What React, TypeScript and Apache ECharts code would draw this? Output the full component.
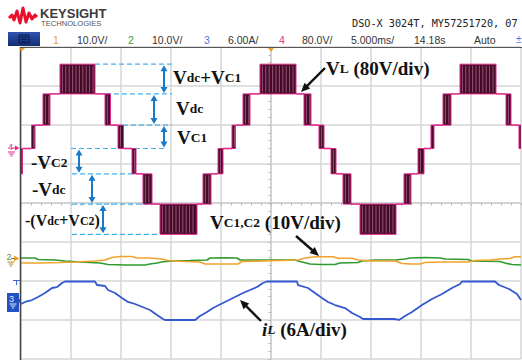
import React, { useEffect, useRef } from "react";
import * as echarts from "echarts";

// ---------- axes: 5 ms/div x 10 div, 8 vertical divisions ----------
const TIME_MIN = -25;
const TIME_MAX = 25;
const TIME_DIV = 5;
const DIVS = 4; // half of the vertical divisions

// channel scales (per division) and ground-marker positions (in divisions from centre)
const CH12_PER_DIV = 10; // V
const CH3_PER_DIV = 6; // A
const CH4_PER_DIV = 80; // V
const CH12_GROUND = -1.423;
const CH3_GROUND = -2.513;
const CH4_GROUND = 1.397;

// ---------- Channel 4: VL multilevel output (V), segments between edges ----------
const vlEdges = [
  -25, -24.85, -23.95, -23.6, -22.8, -22.1, -21.1, -17.6, -16.6, -16.05,
  -15.3, -14.75, -13.9, -13.5, -12.8, -11.9, -11.1, -7.4, -6.8, -6.0,
  -5.3, -4.8, -3.9, -3.55, -2.8, -2.1, -1.1, 2.5, 3.3, 4.0,
  4.8, 5.3, 6.0, 6.5, 7.2, 8.0, 8.9, 12.5, 13.3, 14.0,
  14.7, 15.3, 16.0, 16.3, 17.2, 18.0, 18.9, 22.5, 23.5, 24.0,
  24.8, 25,
];
const vlLow = [
  -52, 0, 0, 48, 48, 112, 112, 112, 48, 48,
  0, 0, -52, -52, -114, -114, -176, -114, -114, -52,
  -52, 0, 0, 48, 48, 112, 112, 112, 48, 48,
  0, 0, -52, -52, -114, -114, -176, -114, -114, -52,
  -52, 0, 0, 48, 48, 112, 112, 112, 48, 48,
  0,
];
const vlHigh = [
  0, 0, 48, 48, 112, 112, 173, 112, 112, 48,
  48, 0, 0, -52, -52, -114, -114, -114, -52, -52,
  0, 0, 48, 48, 112, 112, 173, 112, 112, 48,
  48, 0, 0, -52, -52, -114, -114, -114, -52, -52,
  0, 0, 48, 48, 112, 112, 173, 112, 112, 48,
  48,
];

// ---------- Channel 1: VC1 (V) ----------
const vc1Time = [
  -25.0, -23.1, -21.1, -19.6, -17.6, -16.6, -15.9, -15.1, -13.9, -13.4,
  -12.1, -10.9, -10.3, -8.6, -7.1, -6.6, -3.3, -2.9, -0.9, 0.9,
  2.7, 3.4, 4.4, 6.2, 6.7, 8.1, 8.7, 10.1, 12.4, 13.1,
  13.9, 14.9, 15.4, 17.4, 19.7, 20.4, 21.9, 22.9, 23.9, 24.4, 25.0,
];
const vc1Volt = [
  -1.15, -1.15, -1.03, -0.9, -0.64, -0.38, 0.26, 0.51, 0.51, 0.13,
  0.13, -0.13, -0.51, -0.77, -0.9, -1.41, -1.41, -0.77, -0.64, -0.51,
  -0.38, 0.13, 0.46, 0.46, 0.05, 0.05, -0.38, -0.64, -0.64, -1.28,
  -1.41, -1.41, -1.03, -0.9, -0.9, -0.51, -0.38, -0.13, 0, 0.46, 0.46,
];

// ---------- Channel 2: VC2 (V) ----------
const vc2Time = [
  -25.0, -23.6, -23.3, -21.6, -20.6, -19.1, -17.1, -16.3, -14.6, -12.6,
  -12.1, -11.4, -10.8, -9.9, -8.1, -6.4, -6.1, -4.6, -3.4, -3.1,
  2.4, 2.9, 3.9, 4.9, 6.4, 6.9, 8.7, 9.1, 10.4, 12.4,
  13.4, 13.9, 15.4, 16.9, 17.4, 19.7, 20.1, 22.9, 23.4, 24.1, 25.0,
];
const vc2Volt = [
  0.13, 0.13, -0.26, -0.38, -0.64, -0.9, -1.15, -1.54, -1.67, -1.67,
  -1.41, -1.15, -0.82, -0.64, -0.51, -0.38, 0.13, 0.21, 0.13, -0.38,
  -0.38, -0.77, -1.41, -1.54, -1.54, -1.15, -1.03, -0.64, -0.38, -0.38,
  -0.13, 0.13, 0.26, 0.13, -0.13, -0.26, -0.64, -0.77, -1.15, -1.54, -1.67,
];

// ---------- Channel 3: iL (A) ----------
const iLTime = [
  -25.0, -24.6, -23.9, -23.3, -22.6, -21.9, -21.4, -20.9, -20.6, -17.6,
  -17.4, -16.6, -16.3, -15.6, -14.9, -14.3, -13.6, -12.6, -12.1, -11.4,
  -10.8, -10.6, -7.6, -7.1, -6.4, -5.8, -4.8, -3.8, -2.8, -2.1,
  -1.4, -0.8, -0.4, 2.6, 2.7, 3.7, 4.4, 5.1, 5.7, 6.4,
  7.4, 8.1, 8.9, 9.2, 12.4, 12.8, 13.4, 14.1, 15.1, 16.1,
  17.1, 18.1, 18.9, 19.1, 22.4, 22.8, 23.8, 24.6, 25.0,
];
const iLAmp = [
  -0.46, -0.15, 0.15, 0.62, 1.23, 2.0, 2.15, 2.77, 3.0, 3.0,
  2.46, 2.31, 1.69, 1.23, 0.46, -0.15, -0.46, -1.08, -1.38, -2.15,
  -2.77, -2.92, -2.92, -2.31, -1.69, -1.08, -0.31, 0.46, 1.23, 1.69,
  2.15, 2.77, 3.0, 3.0, 2.46, 2.0, 1.23, 0.46, -0.15, -0.62,
  -1.08, -1.85, -2.46, -2.77, -2.77, -2.92, -2.31, -1.69, -0.62, 0.31,
  1.08, 2.0, 2.62, 3.0, 3.0, 2.46, 1.85, 1.08, 0.15,
];

// ---------- level annotations on channel 4 ----------
const dashFrom = [-17.6, -16.5, -14.8, -20.0, -19.9, -19.9, -19.9];
const dashTo = [-9.9, -9.9, -9.9, -10.4, -13.8, -11.9, -11.1];
const dashLevel = [173, 112, 48, 0, -52, -114, -176];

const spanTime = [-10.7, -11.7, -10.7, -19.2, -17.9, -16.8];
const spanTop = [173, 112, 48, 0, -52, -114];
const spanBottom = [112, 48, 0, -52, -114, -176];

// ---------- header texts ----------
const headerModel = "DSO-X 3024T, MY57251720, 07";
const statusItems = [
  { text: "1", x: 53, color: "#f0a020" },
  { text: "10.0V/", x: 77, color: "#333" },
  { text: "2", x: 128, color: "#3aa040" },
  { text: "10.0V/", x: 152, color: "#333" },
  { text: "3", x: 204, color: "#4a7ae0" },
  { text: "6.00A/", x: 228, color: "#333" },
  { text: "4", x: 279, color: "#e0288a" },
  { text: "80.0V/", x: 302, color: "#333" },
  { text: "5.000ms/", x: 351, color: "#333" },
  { text: "14.18s", x: 414, color: "#333" },
  { text: "Auto", x: 474, color: "#333" },
];

const PINK = "#e0288a";
const DARK = "#450a29";
const STRIPE = "#b77594";
const ORANGE = "#f2a22c";
const GREEN = "#2f9a2f";
const BLUE_TRACE = "#3558d0";
const ANN_BLUE = "#1a78c8";
const DASH_BLUE = "#45b2f0";
const SERIF = "'Liberation Serif', 'Times New Roman', serif";
const SANS = "'Liberation Sans', Arial, sans-serif";

const axisRange = (perDiv: number, ground: number) => ({
  min: (-DIVS - ground) * perDiv,
  max: (DIVS - ground) * perDiv,
});

function blackArrow(x1: number, y1: number, x2: number, y2: number) {
  const dx = x2 - x1, dy = y2 - y1;
  const L = Math.hypot(dx, dy);
  const ux = dx / L, uy = dy / L;
  const hl = 9, hw = 4;
  const bx = x2 - ux * hl, by = y2 - uy * hl;
  return [
    { type: "line", z: 60, shape: { x1, y1, x2: bx + ux, y2: by + uy }, style: { stroke: "#111", lineWidth: 2.4 } },
    {
      type: "polygon", z: 60,
      shape: { points: [[x2, y2], [bx - uy * hw, by + ux * hw], [bx + uy * hw, by - ux * hw]] },
      style: { fill: "#111" },
    },
  ];
}

function ground(x: number, y: number, color: string) {
  return [
    { type: "line", z: 60, shape: { x1: x - 3.5, y1: y, x2: x + 3.5, y2: y }, style: { stroke: color, lineWidth: 1 } },
    { type: "line", z: 60, shape: { x1: x - 2.3, y1: y + 2, x2: x + 2.3, y2: y + 2 }, style: { stroke: color, lineWidth: 1 } },
    { type: "line", z: 60, shape: { x1: x - 1, y1: y + 4, x2: x + 1, y2: y + 4 }, style: { stroke: color, lineWidth: 1 } },
  ];
}

const tok = (fontSize: number, lift: number, italic = false) => ({
  fontFamily: SERIF, fontWeight: "bold", fontStyle: italic ? "italic" : "normal",
  fontSize, fill: "#111", verticalAlign: "bottom", padding: [0, 0, lift, 0],
});
const richBase = {
  b: tok(19, 0),
  s: tok(13.5, 2),
  bi: tok(19, 0, true),
  si: tok(13.5, 2, true),
  m: tok(16, 0),
  t: tok(12, 1.5),
};

function label(x: number, y: number, text: string) {
  return {
    type: "text", z: 60, x, y,
    style: { text, rich: richBase, verticalAlign: "middle", align: "left" },
  };
}

function buildOption() {
  const ch4 = axisRange(CH4_PER_DIV, CH4_GROUND);
  const ch12 = axisRange(CH12_PER_DIV, CH12_GROUND);
  const ch3 = axisRange(CH3_PER_DIV, CH3_GROUND);

  const vlData = vlLow.map((lo, i) => [vlEdges[i], vlEdges[i + 1], lo, vlHigh[i]]);
  const dashData = dashLevel.map((lv, i) => [dashFrom[i], dashTo[i], lv]);
  const spanData = spanTime.map((t, i) => [t, spanTop[i], spanBottom[i]]);

  const gridLine = { color: "#d6d6d6", width: 1.5 };
  const centreLine = { show: true, onZero: true, onZeroAxisIndex: 0, lineStyle: { color: "#cfcfcf", width: 1.5 } };

  const graphic: any[] = [
    // frame
    { type: "line", z: 55, shape: { x1: 20, y1: 47.5, x2: 522, y2: 47.5 }, style: { stroke: "#555", lineWidth: 1 } },
    { type: "line", z: 55, shape: { x1: 20.5, y1: 47, x2: 20.5, y2: 360 }, style: { stroke: "#444", lineWidth: 1.5 } },
    // logo
    {
      type: "polyline", z: 60,
      shape: { points: [[9, 18], [12, 15], [14, 20], [17, 11], [20, 23], [23, 8], [26, 22], [29, 13], [32, 19], [35, 15], [37, 17]] },
      style: { stroke: "#e8102a", lineWidth: 3, fill: null, lineJoin: "round" },
    },
    { type: "text", z: 60, x: 40, y: 13, style: { text: "KEYSIGHT", font: `bold 13px ${SANS}`, fill: "#3a3a3a", verticalAlign: "middle" } },
    { type: "text", z: 60, x: 41, y: 23.5, style: { text: "TECHNOLOGIES", font: `7.6px ${SANS}`, fill: "#555", verticalAlign: "middle" } },
    { type: "text", z: 60, x: 352, y: 23, style: { text: headerModel, font: `10.2px 'DejaVu Sans Mono', monospace`, fill: "#222", verticalAlign: "middle" } },
    // menu button
    {
      type: "rect", z: 60, shape: { x: 8, y: 32, width: 32, height: 14 },
      style: {
        fill: new echarts.graphic.LinearGradient(0, 0, 0, 1, [
          { offset: 0, color: "#2f55b0" },
          { offset: 1, color: "#142c72" },
        ]),
      },
    },
    { type: "rect", z: 61, shape: { x: 19, y: 35, width: 10, height: 8 }, style: { fill: "#1c3a8a", stroke: "#0b1b4a", lineWidth: 1 } },
    { type: "line", z: 62, shape: { x1: 21, y1: 37.5, x2: 27, y2: 37.5 }, style: { stroke: "#0b1b4a", lineWidth: 0.8 } },
    { type: "line", z: 62, shape: { x1: 21, y1: 39.5, x2: 27, y2: 39.5 }, style: { stroke: "#0b1b4a", lineWidth: 0.8 } },
    { type: "line", z: 62, shape: { x1: 21, y1: 41.5, x2: 27, y2: 41.5 }, style: { stroke: "#0b1b4a", lineWidth: 0.8 } },
    ...statusItems.map((s) => ({
      type: "text", z: 60, x: s.x, y: 39.5,
      style: { text: s.text, font: `10.5px ${SANS}`, fill: s.color, verticalAlign: "middle" },
    })),
    { type: "text", z: 60, x: 516, y: 39.5, style: { text: "±", font: `10px ${SANS}`, fill: "#4a7ae0", verticalAlign: "middle" } },
    // trigger position markers
    { type: "polygon", z: 60, shape: { points: [[268, 48], [274, 48], [271, 52]] }, style: { fill: ORANGE } },
    { type: "polygon", z: 60, shape: { points: [[20, 48], [25, 48], [21, 52]] }, style: { fill: ORANGE } },
    // channel 4 marker
    { type: "text", z: 60, x: 8, y: 146.5, style: { text: "4", font: `9px ${SANS}`, fill: PINK, verticalAlign: "middle" } },
    { type: "polygon", z: 60, shape: { points: [[15, 145.5], [19.5, 148], [15, 150.5]] }, style: { fill: PINK } },
    { type: "line", z: 60, shape: { x1: 11.5, y1: 148, x2: 16, y2: 148 }, style: { stroke: PINK, lineWidth: 1 } },
    ...ground(11.5, 152, PINK),
    // channel 1/2 marker
    { type: "text", z: 60, x: 6.5, y: 257, style: { text: "2", font: `9px ${SANS}`, fill: "#6a8a2a", verticalAlign: "middle" } },
    { type: "polygon", z: 60, shape: { points: [[14, 255.5], [19.5, 258.5], [14, 261.5]] }, style: { fill: ORANGE } },
    { type: "line", z: 60, shape: { x1: 11, y1: 258.5, x2: 15, y2: 258.5 }, style: { stroke: "#6a8a2a", lineWidth: 1 } },
    ...ground(11, 262, "#b08a20"),
    // channel 3 trigger level + marker
    { type: "line", z: 60, shape: { x1: 13, y1: 280.5, x2: 20, y2: 280.5 }, style: { stroke: "#3a6ad8", lineWidth: 1 } },
    { type: "line", z: 60, shape: { x1: 16.5, y1: 280.5, x2: 16.5, y2: 285 }, style: { stroke: "#3a6ad8", lineWidth: 1 } },
    { type: "rect", z: 60, shape: { x: 7, y: 293, width: 12, height: 19 }, style: { fill: "#2452c4" } },
    { type: "text", z: 61, x: 9, y: 298.5, style: { text: "3", font: `9px ${SANS}`, fill: "#dfe8ff", verticalAlign: "middle" } },
    ...ground(13, 304, "#dfe8ff").map((g) => ({ ...g, z: 61 })),
    { type: "polygon", z: 60, shape: { points: [[19, 298.5], [21, 301], [19, 303.5]] }, style: { fill: "#2452c4" } },
    // annotation labels
    label(173, 77, "{b|V}{s|dc}{b|+V}{s|C1}"),
    label(176, 108, "{b|V}{s|dc}"),
    label(177, 137, "{b|V}{s|C1}"),
    label(31, 162, "{b|-V}{s|C2}"),
    label(32, 189, "{b|-V}{s|dc}"),
    label(25, 220, "{m|-(V}{t|dc}{m|+V}{t|C2}{m|)}"),
    label(326, 68, "{b|V}{s|L}{b| (80V/div)}"),
    label(210, 222, "{b|V}{s|C1,C2}{b| (10V/div)}"),
    label(262, 329, "{bi|i}{si|L}{b| (6A/div)}"),
    ...blackArrow(325, 68, 301, 92),
    ...blackArrow(296, 236, 319, 256),
    ...blackArrow(261, 321, 240, 300),
  ];

  return {
    animation: false,
    backgroundColor: "#ffffff",
    grid: { left: 21, top: 47, width: 500, height: 312, outerBoundsMode: "none" },
    xAxis: [
      {
        type: "value", min: TIME_MIN, max: TIME_MAX, interval: TIME_DIV,
        axisLabel: { show: false },
        axisLine: centreLine,
        axisTick: { show: true, length: 2.5, lineStyle: { color: "#b8b8b8" } },
        minorTick: { show: true, splitNumber: 5, length: 2.5, lineStyle: { color: "#b8b8b8" } },
        splitLine: { show: true, lineStyle: gridLine },
      },
    ],
    yAxis: [
      {
        type: "value", min: -DIVS, max: DIVS, interval: 1,
        axisLabel: { show: false },
        axisLine: { show: true, onZero: true, lineStyle: { color: "#cfcfcf", width: 1.5 } },
        axisTick: { show: true, length: 2.5, lineStyle: { color: "#b8b8b8" } },
        minorTick: { show: true, splitNumber: 5, length: 2.5, lineStyle: { color: "#b8b8b8" } },
        splitLine: { show: true, lineStyle: gridLine },
      },
      { type: "value", show: false, min: ch4.min, max: ch4.max },
      { type: "value", show: false, min: ch12.min, max: ch12.max },
      { type: "value", show: false, min: ch3.min, max: ch3.max },
    ],
    series: [
      {
        type: "line", name: "VC2", yAxisIndex: 2, showSymbol: false, silent: true,
        data: vc2Time.map((t, i) => [t, vc2Volt[i]]),
        lineStyle: { color: GREEN, width: 1.6 },
      },
      {
        type: "line", name: "VC1", yAxisIndex: 2, showSymbol: false, silent: true,
        data: vc1Time.map((t, i) => [t, vc1Volt[i]]),
        lineStyle: { color: ORANGE, width: 1.6 },
      },
      {
        type: "line", name: "iL", yAxisIndex: 3, showSymbol: false, silent: true,
        data: iLTime.map((t, i) => [t, iLAmp[i]]),
        lineStyle: { color: BLUE_TRACE, width: 1.8 },
      },
      {
        type: "custom", name: "levels", yAxisIndex: 1, silent: true,
        data: dashData,
        encode: { x: [0, 1], y: 2 },
        renderItem: (_p: any, api: any) => {
          const a = api.coord([api.value(0), api.value(2)]);
          const b = api.coord([api.value(1), api.value(2)]);
          return {
            type: "line",
            shape: { x1: a[0], y1: a[1], x2: b[0], y2: b[1] },
            style: { stroke: DASH_BLUE, lineWidth: 1.2, lineDash: [5, 3] },
          };
        },
      },
      {
        type: "custom", name: "spans", yAxisIndex: 1, silent: true,
        data: spanData,
        encode: { x: 0, y: [1, 2] },
        renderItem: (_p: any, api: any) => {
          const a = api.coord([api.value(0), api.value(1)]);
          const b = api.coord([api.value(0), api.value(2)]);
          const x = a[0], hl = 6, hw = 3.5;
          const ya = a[1] + 1, yb = b[1] - 1;
          return {
            type: "group",
            children: [
              { type: "line", shape: { x1: x, y1: ya + hl - 1, x2: x, y2: yb - hl + 1 }, style: { stroke: ANN_BLUE, lineWidth: 2 } },
              { type: "polygon", shape: { points: [[x, ya], [x - hw, ya + hl], [x + hw, ya + hl]] }, style: { fill: ANN_BLUE } },
              { type: "polygon", shape: { points: [[x, yb], [x - hw, yb - hl], [x + hw, yb - hl]] }, style: { fill: ANN_BLUE } },
            ],
          };
        },
      },
      {
        type: "custom", name: "VL", yAxisIndex: 1, silent: true, clip: true,
        data: vlData,
        encode: { x: [0, 1], y: [2, 3] },
        renderItem: (_p: any, api: any) => {
          const t0 = api.value(0), t1 = api.value(1), lo = api.value(2), hi = api.value(3);
          const pa = api.coord([t0, hi]);
          const pb = api.coord([t1, lo]);
          if (lo === hi) {
            return {
              type: "line",
              shape: { x1: pa[0], y1: pa[1], x2: pb[0], y2: pa[1] },
              style: { stroke: PINK, lineWidth: 1.6 },
            };
          }
          const x = pa[0], y = pa[1], w = pb[0] - pa[0], h = pb[1] - pa[1];
          const children: any[] = [
            { type: "rect", shape: { x, y, width: w, height: h }, style: { fill: DARK, stroke: PINK, lineWidth: 1 } },
          ];
          for (let sx = x + 2.4; sx < x + w - 1; sx += 3.4) {
            children.push({
              type: "line",
              shape: { x1: sx, y1: y + 1.5, x2: sx, y2: y + h - 1.5 },
              style: { stroke: STRIPE, lineWidth: 0.7 },
            });
          }
          return { type: "group", children };
        },
      },
    ],
    graphic,
  };
}

export default function App() {
  const ref = useRef<HTMLDivElement>(null);
  useEffect(() => {
    if (!ref.current) return;
    const chart = echarts.init(ref.current, null, { renderer: "svg" });
    chart.setOption(buildOption() as any);
    return () => chart.dispose();
  }, []);
  return (
    <div
      ref={ref}
      style={{ position: "fixed", left: 0, top: 0, width: 522, height: 360, background: "#fff" }}
    />
  );
}
